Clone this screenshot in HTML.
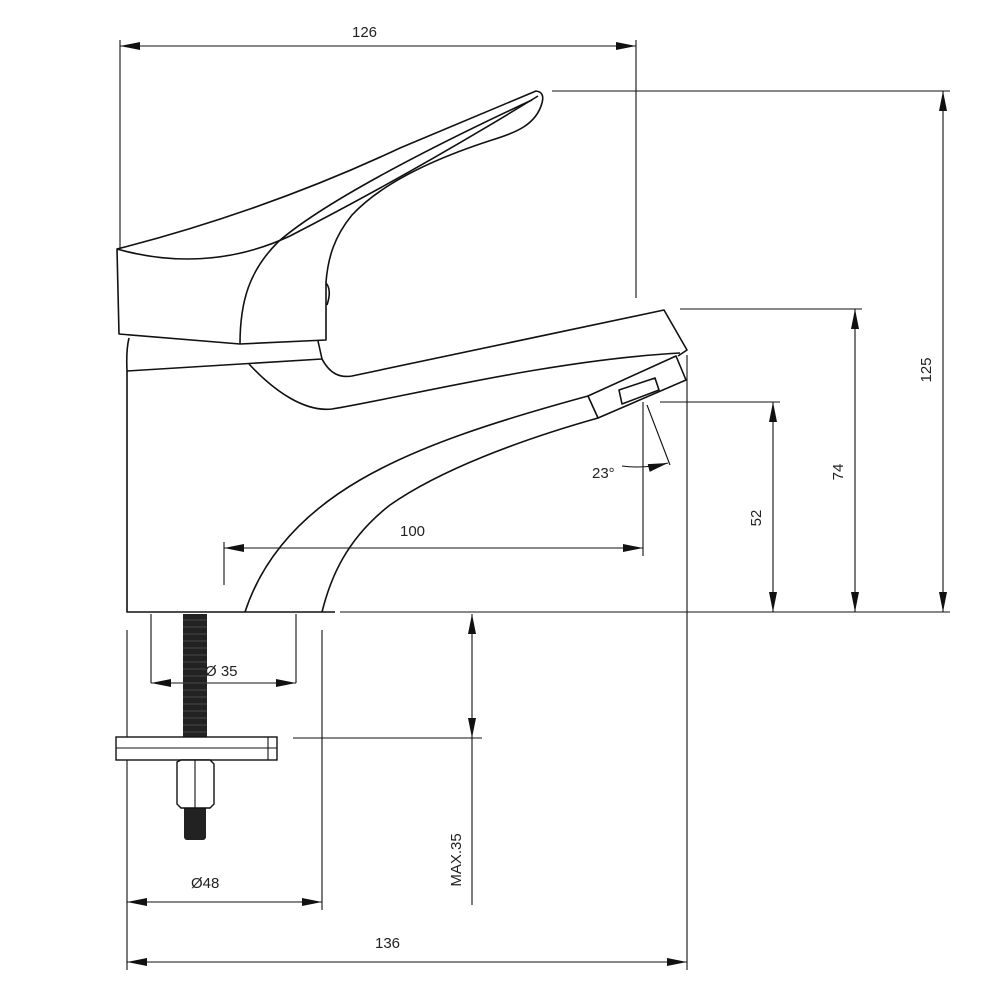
<!DOCTYPE html>
<html><head><meta charset="utf-8"><style>
html,body{margin:0;padding:0;background:#fff}
text{font-family:"Liberation Sans",sans-serif;font-size:15px;fill:#222}
</style></head><body>
<svg width="1000" height="1000" viewBox="0 0 1000 1000" xmlns="http://www.w3.org/2000/svg">
<defs>
<marker id="a" viewBox="0 0 20 8" refX="20" refY="4" markerWidth="20" markerHeight="8" markerUnits="userSpaceOnUse" orient="auto-start-reverse"><path d="M0,0 L20,4 L0,8 Z" fill="#111"/></marker>
</defs>
<g fill="none" stroke="#111" stroke-width="1.6" stroke-linejoin="round">
<!-- handle -->
<path d="M117,249 C200,228 300,195 400,148 L536,91 Q545,92 542,103 C536,125 515,133 492,140 C430,160 380,185 352,215 C334,237 328,258 326,282 L326,340 L240,344 L119,334 Z"/>
<path d="M117,249 C170,264 230,264 290,236 C360,200 450,150 538,96"/>
<path d="M240,344 C240,300 250,270 278,242 C320,205 420,152 532,100"/>
<path d="M326,283 Q332,290 327,305" />
<!-- collar -->
<path d="M129,338 Q126,350 127,371 L322,359 L318,341"/>
<!-- body -->
<path d="M127,371 L127,612 L335,612"/>
<!-- spout -->
<path d="M322,359 C330,374 340,378 352,376 L664,310 L687,350 L678,356"/>
<path d="M249,364 C275,392 305,412 332,409 C400,398 550,360 680,353"/>
<path d="M676,356 L588,396 L598,418 L686,380 Z"/>
<path d="M619,390 L622,404 L659,390 L655,378 Z"/>
<path d="M588,396 C500,420 420,445 360,480 C300,515 262,560 245,612"/>
<path d="M598,418 C520,440 440,470 390,505 C345,540 330,580 322,612"/>
</g>
<g fill="none" stroke="#111" stroke-width="1.1">
<!-- 126 -->
<line x1="120" y1="46" x2="636" y2="46" marker-start="url(#a)" marker-end="url(#a)"/>
<line x1="120" y1="40" x2="120" y2="250"/>
<line x1="636" y1="40" x2="636" y2="298"/>
<!-- 125 -->
<line x1="552" y1="91" x2="950" y2="91"/>
<line x1="943" y1="91" x2="943" y2="612" marker-start="url(#a)" marker-end="url(#a)"/>
<!-- 74 -->
<line x1="680" y1="309" x2="862" y2="309"/>
<line x1="855" y1="309" x2="855" y2="612" marker-start="url(#a)" marker-end="url(#a)"/>
<!-- 52 -->
<line x1="660" y1="402" x2="780" y2="402"/>
<line x1="773" y1="402" x2="773" y2="612" marker-start="url(#a)" marker-end="url(#a)"/>
<!-- baseline -->
<line x1="340" y1="612" x2="950" y2="612"/>
<!-- 100 -->
<line x1="224" y1="548" x2="643" y2="548" marker-start="url(#a)" marker-end="url(#a)"/>
<line x1="224" y1="542" x2="224" y2="585"/>
<line x1="643" y1="402" x2="643" y2="556"/>
<!-- 23 -->
<line x1="647" y1="405" x2="670" y2="465"/>
<path d="M622,466 Q645,469 668,463" marker-end="url(#a)"/>
<!-- 136 -->
<line x1="687" y1="355" x2="687" y2="970"/>
<line x1="127" y1="630" x2="127" y2="970"/>
<line x1="127" y1="962" x2="687" y2="962" marker-start="url(#a)" marker-end="url(#a)"/>
<!-- 48 -->
<line x1="322" y1="630" x2="322" y2="910"/>
<line x1="127" y1="902" x2="322" y2="902" marker-start="url(#a)" marker-end="url(#a)"/>
<!-- 35 -->
<line x1="151" y1="614" x2="151" y2="683"/>
<line x1="296" y1="614" x2="296" y2="683"/>
<line x1="151" y1="683" x2="296" y2="683" marker-start="url(#a)" marker-end="url(#a)"/>
<!-- MAX35 -->
<line x1="472" y1="614" x2="472" y2="738" marker-start="url(#a)" marker-end="url(#a)"/>
<line x1="293" y1="738" x2="482" y2="738"/>
<line x1="472" y1="738" x2="472" y2="905"/>
</g>
<!-- bolt -->
<rect x="183" y="614" width="24" height="124" fill="#222"/>
<g stroke="#555" stroke-width="0.8">
<path d="M183,620h24M183,627h24M183,634h24M183,641h24M183,648h24M183,655h24M183,662h24M183,669h24M183,676h24M183,683h24M183,690h24M183,697h24M183,704h24M183,711h24M183,718h24M183,725h24M183,732h24"/>
</g>
<rect x="184" y="806" width="22" height="34" rx="3" fill="#222"/>
<g fill="#fff" stroke="#111" stroke-width="1.4">
<rect x="116" y="737" width="161" height="23"/>
<path d="M177,762 L181,760 L210,760 L214,764 L214,804 L210,808 L181,808 L177,804 Z"/>
</g>
<g stroke="#111" stroke-width="1.1">
<line x1="116" y1="748" x2="277" y2="748"/>
<line x1="268" y1="737" x2="268" y2="760"/>
<line x1="195" y1="760" x2="195" y2="808"/>
</g>
<text x="352" y="37">126</text>
<text x="400" y="536">100</text>
<text x="592" y="478">23°</text>
<text x="205" y="676">Ø 35</text>
<text x="191" y="888">Ø48</text>
<text x="375" y="948">136</text>
<text transform="translate(931,370) rotate(-90)" text-anchor="middle">125</text>
<text transform="translate(843,472) rotate(-90)" text-anchor="middle">74</text>
<text transform="translate(761,518) rotate(-90)" text-anchor="middle">52</text>
<text transform="translate(461,860) rotate(-90)" text-anchor="middle">MAX.35</text>
</svg>
</body></html>
